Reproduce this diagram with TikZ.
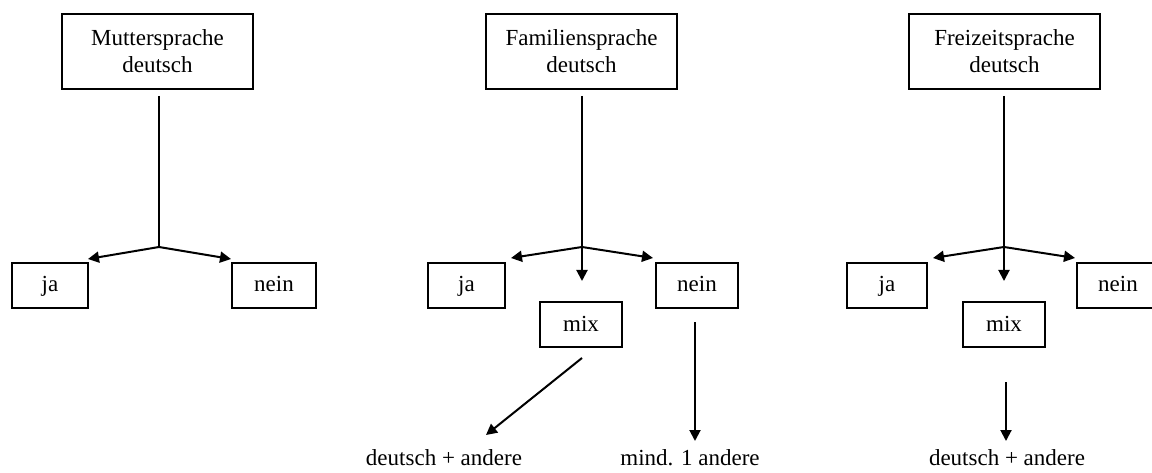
\documentclass[tikz,border=0pt]{standalone}
\usepackage{fontspec}
\setmainfont{Liberation Serif}
\usetikzlibrary{arrows.meta}
\begin{document}
\begin{tikzpicture}[x=1pt,y=-1pt,
  font=\fontsize{23}{27}\selectfont,
  box/.style={draw, line width=1.9pt, inner sep=0pt, align=center, minimum height=45pt},
  smallbox/.style={box, text height=16pt, text depth=3pt},
  topbox/.style={box, minimum width=191pt, minimum height=75pt},
  conn/.style={line width=2pt},
  arr/.style={conn, -{Triangle[length=11pt,width=11pt]}},
  lbl/.style={inner sep=0pt}]
\useasboundingbox (0,0) rectangle (1152,473);

% Panel 1
\node[topbox] (mt) at (157.5,51.5) {Muttersprache\\deutsch};
\node[smallbox, minimum width=76pt] (mja) at (50,285.5) {ja};
\node[smallbox, minimum width=84pt] (mnein) at (274,285.5) {nein};
\coordinate (ms) at (159,96);
\coordinate (mb) at (159,247);
\coordinate (mjt) at (88,259);
\coordinate (mnt) at (231,259);
\draw[conn] (ms) -- (mb);
\draw[arr] (mb) -- (mjt);
\draw[arr] (mb) -- (mnt);

% Panel 2
\node[topbox] (ft) at (581.5,51.5) {Familiensprache\\deutsch};
\node[smallbox, minimum width=77pt] (fja) at (466.5,285.5) {ja};
\node[smallbox, minimum width=82pt] (fnein) at (697,285.5) {nein};
\node[smallbox, minimum width=82pt] (fmix) at (581,324.5) {mix};
\coordinate (fs) at (582,96);
\coordinate (fb) at (582,247);
\coordinate (fmt) at (582,281);
\coordinate (fjt) at (511,258);
\coordinate (fnt) at (653,258);
\draw[arr] (fs) -- (fmt);
\draw[arr] (fb) -- (fjt);
\draw[arr] (fb) -- (fnt);
\coordinate (fd1) at (582,358);
\coordinate (fd2) at (486,435);
\draw[arr] (fd1) -- (fd2);
\coordinate (fn1) at (695,322);
\coordinate (fn2) at (695,441);
\draw[arr] (fn1) -- (fn2);
\node[lbl] (fda) at (444,458) {deutsch + andere};
\node[lbl] (fma) at (690,458) {mind. 1 andere};

% Panel 3
\node[topbox] (zt) at (1004.5,51.5) {Freizeitsprache\\deutsch};
\node[smallbox, minimum width=80pt] (zja) at (887,285.5) {ja};
\node[smallbox, minimum width=82pt] (znein) at (1118,285.5) {nein};
\node[smallbox, minimum width=82pt] (zmix) at (1004,324.5) {mix};
\coordinate (zs) at (1004,96);
\coordinate (zb) at (1004,247);
\coordinate (zmt) at (1004,281);
\coordinate (zjt) at (933,258);
\coordinate (znt) at (1075,258);
\draw[arr] (zs) -- (zmt);
\draw[arr] (zb) -- (zjt);
\draw[arr] (zb) -- (znt);
\coordinate (zd1) at (1006,382);
\coordinate (zd2) at (1006,441);
\draw[arr] (zd1) -- (zd2);
\node[lbl] (zda) at (1007,458) {deutsch + andere};
\end{tikzpicture}
\end{document}
